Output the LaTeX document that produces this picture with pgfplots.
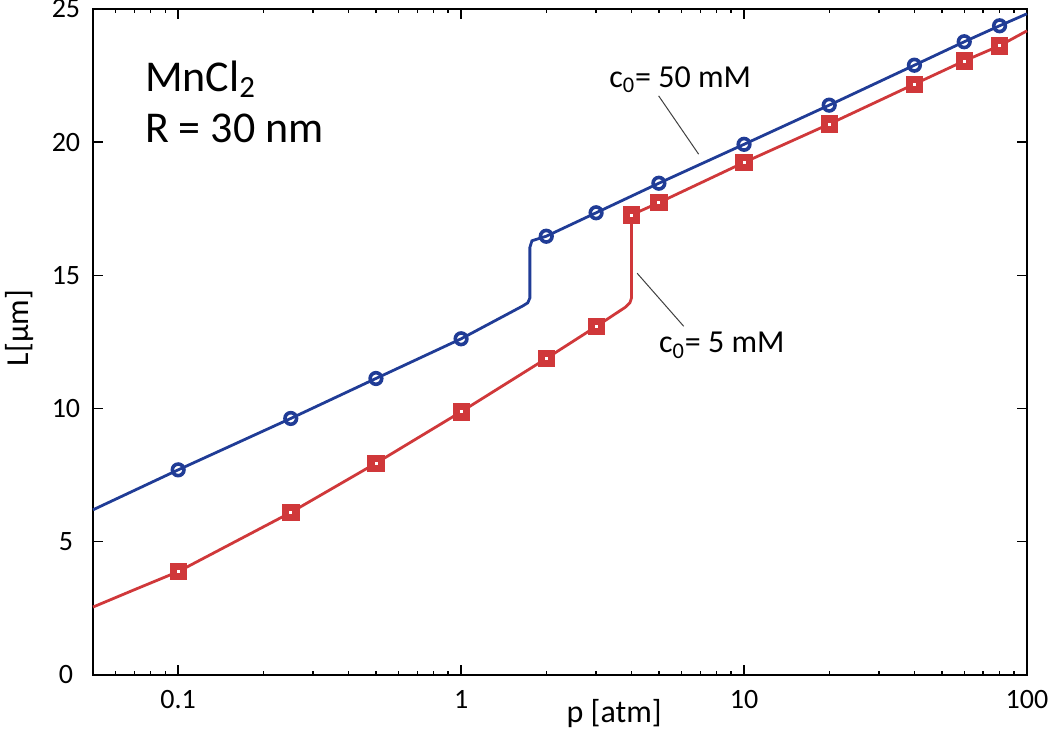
\documentclass[border=0pt]{standalone}
\usepackage{fontspec}
\setmainfont{Carlito}
\usepackage{pgfplots}
\pgfplotsset{compat=1.18}
\definecolor{cblue}{HTML}{203C96}
\definecolor{cred}{HTML}{D0383A}
\begin{document}
\begin{tikzpicture}
\begin{axis}[
  scale only axis, width=467pt, height=333pt,
  xmode=log, xmin=0.05, xmax=100, ymin=0, ymax=25,
  xtick={0.1,1,10,100}, xticklabels={0.1,1,10,100},
  minor xtick={0.06,0.07,0.08,0.09,0.2,0.3,0.4,0.5,0.6,0.7,0.8,0.9,2,3,4,5,6,7,8,9,20,30,40,50,60,70,80,90},
  ytick={0,5,10,15,20,25},
  tick align=inside, major tick length=5pt, minor tick length=2.2pt,
  tick style={black, line width=0.7pt},
  axis line style={line width=0.9pt},
  /pgf/number format/assume math mode=true,
  ticklabel style={font=\fontsize{14}{16}\selectfont},
  yticklabel style={anchor=center, xshift=-13.5pt},
  xticklabel style={anchor=base, yshift=-17pt},
  xlabel={p [atm]}, ylabel={L[μm]},
  label style={font=\fontsize{16}{18}\selectfont},
  xlabel style={at={(axis description cs:0.558,-0.072)}, anchor=base},
  ylabel style={at={(axis description cs:-0.0787,0.521)}, anchor=center},
  clip=false,
]
% blue curve
\addplot[cblue, line width=1.4pt, no marks] coordinates {
(0.05,6.2) (0.1,7.7) (0.25,9.63) (0.5,11.13) (1,12.62) (1.65,13.85) (1.72,13.97) (1.75,14.15) (1.75,16.05) (1.78,16.3) (2,16.47) (3,17.35) (5,18.46) (10,19.92) (20,21.39) (40,22.89) (60,23.77) (80,24.37) (100,24.82)};
\addplot[only marks, mark=o, mark size=2.9pt, cblue, line width=1.8pt] coordinates {
(0.1,7.7) (0.25,9.63) (0.5,11.13) (1,12.62) (2,16.47) (3,17.35) (5,18.46) (10,19.92) (20,21.39) (40,22.89) (60,23.77) (80,24.37)};
% red curve
\addplot[cred, line width=1.4pt, no marks] coordinates {
(0.05,2.55) (0.07,3.2) (0.1,3.88) (0.25,6.1) (0.5,7.95) (1,9.88) (2,11.88) (3,13.08) (3.8,13.8) (3.95,13.97) (4,14.15) (4,17.27) (5,17.73) (10,19.24) (20,20.68) (40,22.18) (60,23.05) (80,23.62) (100,24.18)};
\addplot[only marks, mark=square*, mark size=4.1pt, cred, mark options={fill=cred, draw=cred}] coordinates {
(0.1,3.88) (0.25,6.1) (0.5,7.95) (1,9.88) (2,11.88) (3,13.08) (4,17.27) (5,17.73) (10,19.24) (20,20.68) (40,22.18) (60,23.05) (80,23.62)};
\addplot[only marks, mark=square*, mark size=0.5pt, white, mark options={fill=white, draw=white}] coordinates {
(0.1,3.88) (0.25,6.1) (0.5,7.95) (1,9.88) (2,11.88) (3,13.08) (4,17.27) (5,17.73) (10,19.24) (20,20.68) (40,22.18) (60,23.05) (80,23.62)};
% annotations
\draw[black!75, line width=0.5pt] (axis cs:4.99,21.74) -- (axis cs:6.91,19.55);
\draw[black!75, line width=0.5pt] (axis cs:4.19,15.08) -- (axis cs:6.12,13.09);
\node[anchor=base west, font=\fontsize{16}{18}\selectfont, inner sep=0pt] at (axis cs:3.33,22.05) {c\textsubscript{0}= 50 mM};
\node[anchor=base west, font=\fontsize{16}{18}\selectfont, inner sep=0pt] at (axis cs:4.99,12.09) {c\textsubscript{0}= 5 mM};
\node[anchor=base west, font=\fontsize{22}{26}\selectfont, inner sep=0pt] at (axis cs:0.0762,21.92) {MnCl\textsubscript{2}};
\node[anchor=base west, font=\fontsize{22}{26}\selectfont, inner sep=0pt] at (axis cs:0.0762,20.0) {R = 30 nm};
\end{axis}
\pgfresetboundingbox
\path[use as bounding box] ([shift={(-46.5pt,-30.5pt)}]current axis.south west) rectangle ([shift={(11.5pt,4.5pt)}]current axis.north east);
\end{tikzpicture}
\end{document}
